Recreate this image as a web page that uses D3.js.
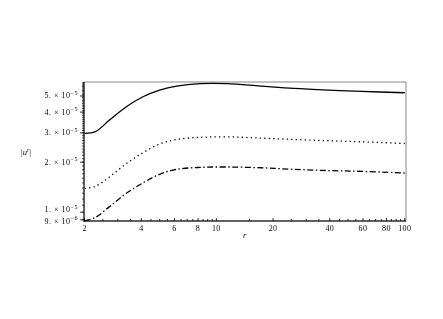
<!DOCTYPE html>
<html>
<head>
<meta charset="utf-8">
<script src="https://cdn.jsdelivr.net/npm/d3@7"></script>
<style>
  body { margin: 0; background: #fff; }
  svg { will-change: transform; }
  text { font-family: "Liberation Serif", "DejaVu Serif", serif; fill: #000; opacity: 0.99; }
</style>
</head>
<body>
<div id="plot"></div>
<script>
// values
const rSolid = [2.0, 2.28, 2.71, 3.33, 4.08, 5.0, 6.16, 8.2, 11.4, 17.2, 25.8, 39.2, 59, 100];
const uSolid = [2.98e-5, 3.05e-5, 3.58e-5, 4.31e-5, 4.95e-5, 5.43e-5, 5.74e-5, 5.93e-5, 5.93e-5, 5.74e-5, 5.56e-5, 5.43e-5, 5.33e-5, 5.23e-5];
const rDot = [2.0, 2.28, 2.71, 3.33, 4.08, 5.0, 6.16, 8.2, 11.4, 17.2, 25.8, 39.2, 59, 100];
const uDot = [1.39e-5, 1.43e-5, 1.63e-5, 1.96e-5, 2.28e-5, 2.57e-5, 2.74e-5, 2.82e-5, 2.84e-5, 2.79e-5, 2.74e-5, 2.69e-5, 2.65e-5, 2.59e-5];
const rDash = [2.0, 2.28, 2.71, 3.33, 4.08, 5.0, 6.16, 8.2, 11.4, 17.2, 25.8, 39.2, 59, 100];
const uDash = [0.887e-5, 0.93e-5, 1.08e-5, 1.30e-5, 1.50e-5, 1.69e-5, 1.81e-5, 1.86e-5, 1.87e-5, 1.85e-5, 1.81e-5, 1.78e-5, 1.76e-5, 1.72e-5];

const xTickLabels = [2, 4, 6, 8, 10, 20, 40, 60, 80, 100];
const yTickMant = ["5.", "4.", "3.", "2.", "1.", "9."];
const yTickExp = ["5", "5", "5", "5", "5", "6"];
const yTickVals = [5e-5, 4e-5, 3e-5, 2e-5, 1e-5, 9e-6];

const W = 443, H = 319;
const plot = {left: 84, right: 406, top: 82, bottom: 221};

const svg = d3.select("#plot").append("svg")
    .attr("width", W)
    .attr("height", H);

const x = d3.scaleLog().domain([1.985, 101.5]).range([plot.left, plot.right]);
const y = d3.scaleLog().domain([8.85e-6, 6.07e-5]).range([plot.bottom, plot.top]);

// frame
svg.append("rect")
    .attr("x", plot.left).attr("y", plot.top)
    .attr("width", plot.right - plot.left).attr("height", plot.bottom - plot.top)
    .attr("fill", "none").attr("stroke", "#888").attr("stroke-width", 1);
svg.append("line").attr("x1", plot.left).attr("x2", plot.left).attr("y1", plot.top).attr("y2", plot.bottom + 1)
    .attr("stroke", "#000");
svg.append("line").attr("x1", plot.left).attr("x2", plot.right).attr("y1", plot.bottom).attr("y2", plot.bottom)
    .attr("stroke", "#000");

// x ticks
const xMinor = d3.range(2, 10, 0.5).concat(d3.range(10, 100.1, 5));
svg.append("g").selectAll("line")
    .data(xMinor)
    .join("line")
    .attr("x1", d => x(d)).attr("x2", d => x(d))
    .attr("y1", plot.bottom).attr("y2", d => xTickLabels.includes(d) ? plot.bottom - 3 : plot.bottom - 2)
    .attr("stroke", "#000").attr("stroke-width", 0.8);

svg.append("g").selectAll("text")
    .data(xTickLabels)
    .join("text")
    .attr("x", d => x(d))
    .attr("y", plot.bottom + 10)
    .attr("text-anchor", "middle")
    .attr("font-size", 8)
    .attr("letter-spacing", 0.4)
    .text(d => d);

// y ticks
const yMinor = d3.range(9e-6, 6.05e-5, 1e-6);
svg.append("g").selectAll("line")
    .data(yMinor)
    .join("line")
    .attr("x1", plot.left).attr("x2", plot.left - 2)
    .attr("y1", d => y(d)).attr("y2", d => y(d))
    .attr("stroke", "#000").attr("stroke-width", 0.7);
svg.append("g").selectAll("line")
    .data(yTickVals)
    .join("line")
    .attr("x1", plot.left).attr("x2", plot.left - 4)
    .attr("y1", d => y(d)).attr("y2", d => y(d))
    .attr("stroke", "#000").attr("stroke-width", 0.8);

const yl = svg.append("g").selectAll("text")
    .data(yTickVals)
    .join("text")
    .attr("x", plot.left - 6)
    .attr("y", (d, i) => y(d) + (i === 4 ? 0 : i === 5 ? 4 : 2.5))
    .attr("text-anchor", "end")
    .attr("font-size", 8)
    .attr("letter-spacing", 0.5);
yl.append("tspan").text((d, i) => yTickMant[i] + " \u00d7 10");
yl.append("tspan").attr("dy", -3.5).attr("font-size", 6).text((d, i) => "\u2212" + yTickExp[i]);

// axis titles
const yt = svg.append("text").attr("x", 21).attr("y", 155).attr("font-size", 8.5);
yt.append("tspan").text("|");
yt.append("tspan").attr("font-style", "italic").text("u");
yt.append("tspan").attr("dy", -3).attr("font-size", 6).attr("font-style", "italic").text("r");
yt.append("tspan").attr("dy", 3).text("|");

svg.append("text").attr("x", 243).attr("y", 238)
    .attr("font-size", 8.5).attr("font-style", "italic").text("r");

// curves
const line = d3.line()
    .x(d => x(d[0]))
    .y(d => y(d[1]))
    .curve(d3.curveCatmullRom.alpha(0.5));

const series = [
    {r: rSolid, u: uSolid, dash: null, w: 1.3},
    {r: rDot, u: uDot, dash: "1.3,3.2", w: 1.3},
    {r: rDash, u: uDash, dash: "6,2.5,1.5,2.5", w: 1.3}
];

svg.append("g").selectAll("path")
    .data(series)
    .join("path")
    .attr("fill", "none")
    .attr("stroke", "#000")
    .attr("stroke-width", d => d.w)
    .attr("stroke-dasharray", d => d.dash)
    .attr("d", d => line(d.r.map((v, i) => [v, d.u[i]])));
</script>
</body>
</html>
